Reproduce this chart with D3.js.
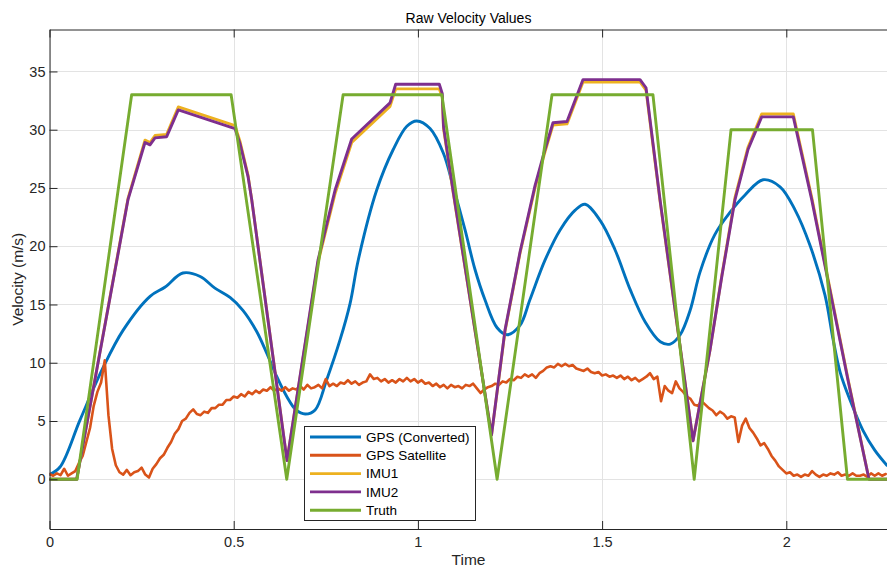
<!DOCTYPE html>
<html>
<head>
<meta charset="utf-8">
<script src="https://cdn.jsdelivr.net/npm/d3@7"></script>
<style>
  html, body { margin: 0; padding: 0; background: #fff; }
  svg { display: block; font-family: "Liberation Sans", Arial, Helvetica, sans-serif; }
</style>
</head>
<body>
<svg id="chart" width="887" height="569"></svg>
<script>
// ---- data -------------------------------------------------------------
const seriesNames = ["GPS (Converted)", "GPS Satellite", "IMU1", "IMU2", "Truth"];
const seriesColors = ["#0072BD", "#D95319", "#EDB120", "#7E2F8E", "#77AC30"];
const xTicks = [0, 0.5, 1, 1.5, 2];
const xTickLabels = ["0", "0.5", "1", "1.5", "2"];
const yTicks = [0, 5, 10, 15, 20, 25, 30, 35];

// GPS position converted to speed (smooth)
const gpsConvT = [0, 0.0285, 0.083, 0.145, 0.2, 0.273, 0.314, 0.362, 0.409, 0.449, 0.49, 0.525, 0.562, 0.59, 0.617, 0.644, 0.669, 0.694, 0.721, 0.752, 0.789, 0.816, 0.838, 0.888, 0.933, 0.97, 0.997, 1.033, 1.069, 1.096, 1.128, 1.155, 1.182, 1.215, 1.242, 1.277, 1.304, 1.345, 1.386, 1.427, 1.454, 1.495, 1.535, 1.576, 1.617, 1.658, 1.685, 1.712, 1.739, 1.766, 1.806, 1.847, 1.888, 1.937, 1.983, 2.024, 2.064, 2.105, 2.127, 2.146, 2.173, 2.208, 2.24, 2.273];
const gpsConvV = [0.4, 1.05, 5.1, 9.55, 12.8, 15.7, 16.5, 17.7, 17.4, 16.4, 15.6, 14.5, 12.7, 10.8, 8.8, 7.1, 5.95, 5.6, 5.95, 8.5, 12.0, 15.1, 18.8, 24.8, 28.3, 30.3, 30.75, 30.1, 28.0, 25.1, 21.4, 18.0, 15.4, 13.0, 12.4, 13.2, 15.4, 18.8, 21.4, 23.1, 23.6, 22.2, 19.7, 16.3, 13.5, 11.8, 11.6, 12.4, 14.5, 17.8, 21.0, 22.9, 24.4, 25.7, 25.1, 23.1, 20.1, 15.8, 12.0, 9.2, 6.8, 4.2, 2.5, 1.2];

// GPS satellite speed, sampled every 0.01 s from t = 0
const gpsSatStep = 0.01;
const gpsSatV = [
  0.45, 0.3, 0.5, 0.35, 0.9, 0.3, 0.5, 0.7, 1.4, 2.0,
  3.2, 4.4, 6.3, 7.5, 8.3, 10.2, 5.5, 2.6, 1.2, 0.6,
  0.4, 0.8, 0.35, 0.6, 0.7, 1.0, 0.4, 0.15, 0.9, 1.3,
  1.8, 2.1, 2.7, 3.2, 3.9, 4.3, 5.0, 5.2, 5.7, 6.0,
  5.6, 5.5, 5.8, 5.7, 6.1, 6.1, 6.4, 6.4, 6.8, 6.8,
  7.1, 7.0, 7.3, 7.1, 7.5, 7.3, 7.6, 7.4, 7.7, 7.6,
  7.9, 7.6, 7.8, 7.6, 7.9, 7.6, 7.8, 7.7, 8.0, 7.7,
  8.1, 7.8, 7.9, 8.1, 7.8, 8.6, 8.0, 8.2, 8.0, 8.3,
  8.2, 8.5, 8.2, 8.4, 8.1, 8.3, 8.4, 9.0, 8.6, 8.7,
  8.4, 8.6, 8.3, 8.5, 8.3, 8.6, 8.4, 8.7, 8.4, 8.6,
  8.3, 8.5, 8.2, 8.3, 8.0, 8.2, 7.9, 8.1, 7.8, 8.1,
  7.9, 8.0, 7.8, 8.1, 8.0, 8.2, 7.8, 7.4, 7.7, 7.9,
  8.0, 8.2, 8.1, 8.4, 8.3, 8.6, 8.5, 8.8, 8.7, 9.0,
  8.8, 9.0, 8.7, 9.1, 9.3, 9.6, 9.7, 9.6, 9.9, 9.7,
  9.9, 9.7, 9.8, 9.5, 9.4, 9.3, 9.5, 9.2, 9.1, 9.2,
  8.9, 9.0, 8.8, 8.9, 8.7, 8.9, 8.6, 8.8, 8.5, 8.7,
  8.4, 8.6, 8.8, 9.1, 8.6, 8.8, 6.7, 8.0, 7.6, 7.4,
  8.4, 7.8, 7.5, 7.1, 6.9, 6.4, 6.3, 6.7, 6.4, 6.1,
  5.9, 5.5, 5.8, 5.6, 5.2, 5.4, 5.3, 3.2, 4.6, 5.2,
  4.4, 4.0, 3.5, 2.9, 3.1, 2.6, 2.0, 1.6, 1.1, 0.8,
  0.5, 0.6, 0.3, 0.4, 0.2, 0.4, 0.3, 0.7, 0.4, 0.2,
  0.4, 0.3, 0.5, 0.4, 0.6, 0.3, 0.4, 0.3, 0.5, 0.3,
  0.3, 0.4, 0.2, 0.5, 0.3, 0.5, 0.3, 0.45
];

// IMU integrated speed (both units share the same sample times)
const imuT = [0, 0.0738, 0.2131, 0.2592, 0.2728, 0.2864, 0.3181, 0.3496, 0.5035, 0.5171, 0.5388, 0.5489, 0.6447, 0.7288, 0.775, 0.8203, 0.9243, 0.9397, 1.0581, 1.0662, 1.0695, 1.0953, 1.1998, 1.2364, 1.2772, 1.3179, 1.345, 1.3667, 1.4047, 1.4482, 1.6029, 1.6192, 1.6572, 1.7468, 1.7929, 1.8255, 1.8608, 1.8961, 1.9332, 2.019, 2.069, 2.1675, 2.2245, 2.28];
const imu1V = [0, 0, 24.1, 29.1, 28.9, 29.5, 29.6, 31.95, 30.35, 29.0, 26.1, 24.0, 1.6, 18.6, 24.5, 28.9, 32.0, 33.5, 33.5, 32.8, 30.1, 24.7, 3.8, 12.7, 19.4, 25.0, 28.1, 30.4, 30.5, 34.1, 34.1, 33.4, 23.9, 3.3, 11.1, 17.6, 24.2, 28.5, 31.35, 31.35, 24.2, 8.6, 0, 0];
const imu2V = [0, 0, 24.0, 28.9, 28.7, 29.3, 29.4, 31.7, 30.1, 28.8, 26.0, 24.0, 1.6, 18.8, 24.8, 29.2, 32.3, 33.9, 33.9, 33.1, 30.3, 24.8, 3.8, 12.8, 19.5, 25.2, 28.3, 30.6, 30.7, 34.3, 34.3, 33.6, 24.0, 3.3, 11.1, 17.5, 24.0, 28.3, 31.1, 31.1, 24.0, 8.5, 0, 0];

// Reference (true) speed profile
const truthT = [0, 0.075, 0.223, 0.493, 0.644, 0.797, 1.065, 1.215, 1.364, 1.638, 1.75, 1.85, 2.071, 2.166, 2.28];
const truthV = [0, 0, 33, 33, 0, 33, 33, 0, 33, 33, 0, 30, 30, 0, 0];

// ---- layout -----------------------------------------------------------
const svg = d3.select("#chart");
const L = 49.5, T = 29.5, B = 529, R = 887.5;
const x = d3.scaleLinear().domain([0, 2.2747]).range([L, R]);
const y = d3.scaleLinear().domain([-4.27, 38.6]).range([B, T]);
const axisColor = "#262626";
const gridColor = "#e3e3e3";

// grid
const grid = svg.append("g");
grid.selectAll(".gx").data(xTicks).join("line")
  .attr("x1", d => Math.round(x(d)) + 0.5).attr("x2", d => Math.round(x(d)) + 0.5)
  .attr("y1", T).attr("y2", B)
  .attr("stroke", gridColor).attr("stroke-width", 1);
grid.selectAll(".gy").data(yTicks).join("line")
  .attr("x1", L).attr("x2", R)
  .attr("y1", d => Math.round(y(d)) + 0.5).attr("y2", d => Math.round(y(d)) + 0.5)
  .attr("stroke", gridColor).attr("stroke-width", 1);

// series
svg.append("defs").append("clipPath").attr("id", "plotClip")
  .append("rect").attr("x", L).attr("y", T).attr("width", R - L).attr("height", B - T);
const plot = svg.append("g").attr("clip-path", "url(#plotClip)");

const linear = d3.line().x(d => x(d[0])).y(d => y(d[1]));
const smooth = d3.line().x(d => x(d[0])).y(d => y(d[1])).curve(d3.curveCatmullRom.alpha(0.5));

const seriesData = [
  { path: smooth, pts: gpsConvT.map((t, i) => [t, gpsConvV[i]]) },
  { path: linear, pts: gpsSatV.map((v, i) => [i * gpsSatStep, v]) },
  { path: linear, pts: imuT.map((t, i) => [t, imu1V[i]]) },
  { path: linear, pts: imuT.map((t, i) => [t, imu2V[i]]) },
  { path: linear, pts: truthT.map((t, i) => [t, truthV[i]]) }
];
seriesData.forEach((s, i) => {
  plot.append("path")
    .attr("d", s.path(s.pts))
    .attr("fill", "none")
    .attr("stroke", seriesColors[i])
    .attr("stroke-width", i === 1 ? 2.6 : 2.9)
    .attr("stroke-linejoin", "round")
    .attr("stroke-linecap", "round");
});

// axes
const xAxis = d3.axisBottom(x).tickValues(xTicks).tickFormat((d, i) => xTickLabels[i])
  .tickSize(-8).tickPadding(8).tickSizeOuter(0);
const gx = svg.append("g").attr("transform", `translate(0,${B})`).call(xAxis);
const xTop = d3.axisTop(x).tickValues(xTicks).tickFormat("").tickSize(-8).tickSizeOuter(0);
const gxt = svg.append("g").attr("transform", `translate(0,${T})`).call(xTop);
const yAxis = d3.axisLeft(y).tickValues(yTicks).tickFormat(d3.format("d"))
  .tickSize(-8).tickPadding(4).tickSizeOuter(0);
const gy = svg.append("g").attr("transform", `translate(${L},0)`).call(yAxis);

[gx, gxt, gy].forEach(g => {
  g.select(".domain").attr("stroke", axisColor).attr("stroke-width", 1);
  g.selectAll(".tick line").attr("stroke", axisColor);
  g.selectAll(".tick text").attr("fill", axisColor).attr("font-size", 14.5)
    .attr("font-family", "'Liberation Sans', Arial, sans-serif");
});

// titles
svg.append("text").attr("x", (L + R) / 2).attr("y", 23).attr("text-anchor", "middle")
  .attr("font-size", 14).attr("fill", "#000").text("Raw Velocity Values");
svg.append("text").attr("x", (L + R) / 2).attr("y", 565).attr("text-anchor", "middle")
  .attr("font-size", 15.5).attr("fill", axisColor).text("Time");
svg.append("text").attr("transform", `translate(23,${(T + B) / 2}) rotate(-90)`)
  .attr("text-anchor", "middle").attr("font-size", 15.5).attr("fill", axisColor)
  .text("Velocity (m/s)");

// legend
const lg = svg.append("g");
lg.append("rect").attr("x", 304.5).attr("y", 426.5).attr("width", 171).attr("height", 94)
  .attr("fill", "#fff").attr("stroke", axisColor).attr("stroke-width", 1);
seriesNames.forEach((name, i) => {
  const cy = 437 + i * 18.3;
  lg.append("line").attr("x1", 310).attr("x2", 361).attr("y1", cy).attr("y2", cy)
    .attr("stroke", seriesColors[i]).attr("stroke-width", 2.9);
  lg.append("text").attr("x", 366).attr("y", cy).attr("dy", "0.35em")
    .attr("font-size", 13.5).attr("fill", "#000").text(name);
});
</script>
</body>
</html>
